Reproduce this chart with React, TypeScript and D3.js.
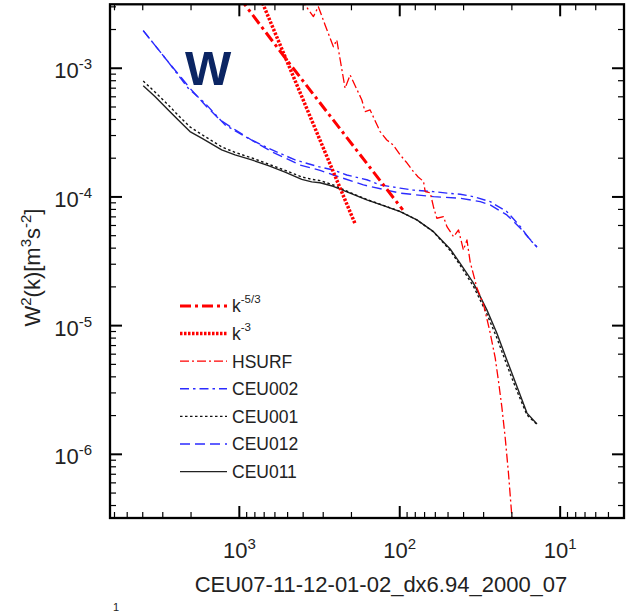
import React from "react";
import * as d3 from "d3";

// ---- data (wavelength in km, W^2(k) in m^3 s^-2) ----
const ceu011X = [3972, 3357, 2773, 2402, 2031, 1717, 1288, 1064, 837, 659, 518.7, 408.1, 353.4, 313.8, 259.9, 203.9, 160.5, 126.4, 99.4, 78.2, 61.6, 48.5, 42.0, 34.7, 28.6, 24.8, 21.5, 18.6, 16.1, 13.95];
const ceu011Y = [7.32e-4, 6.02e-4, 4.74e-4, 3.97e-4, 3.22e-4, 2.86e-4, 2.32e-4, 2.12e-4, 1.94e-4, 1.75e-4, 1.56e-4, 1.37e-4, 1.31e-4, 1.29e-4, 1.21e-4, 1.07e-4, 9.48e-5, 8.56e-5, 7.69e-5, 6.63e-5, 5.37e-5, 3.94e-5, 3.05e-5, 2.14e-5, 1.32e-5, 8.73e-6, 5.41e-6, 3.36e-6, 2.09e-6, 1.72e-6];

const ceu001X = [3972, 3357, 2773, 2402, 2031, 1717, 1288, 1064, 837, 659, 518.7, 408.1, 353.4, 313.8, 259.9, 203.9, 160.5, 126.4, 99.4, 78.2, 61.6, 48.5, 42.0, 34.7, 28.6, 24.8, 21.5, 18.6, 16.1, 13.95];
const ceu001Y = [7.96e-4, 6.54e-4, 5.19e-4, 4.3e-4, 3.5e-4, 3.06e-4, 2.45e-4, 2.22e-4, 2.01e-4, 1.8e-4, 1.61e-4, 1.43e-4, 1.37e-4, 1.34e-4, 1.24e-4, 1.08e-4, 9.56e-5, 8.59e-5, 7.72e-5, 6.63e-5, 5.35e-5, 3.84e-5, 2.94e-5, 2.02e-5, 1.23e-5, 8.02e-6, 4.95e-6, 3.11e-6, 2.02e-6, 1.71e-6];

const ceu002X = [3972, 2837, 2081, 1637, 1228, 921, 659, 449.2, 321.6, 259.2, 213.8, 160.5, 132.6, 99.4, 82.1, 61.6, 50.8, 42.0, 34.7, 27.3, 21.5, 17.7, 15.4, 13.95];
const ceu002Y = [1.96e-3, 1.16e-3, 6.99e-4, 5.35e-4, 3.63e-4, 2.94e-4, 2.39e-4, 1.94e-4, 1.72e-4, 1.62e-4, 1.48e-4, 1.36e-4, 1.24e-4, 1.17e-4, 1.13e-4, 1.1e-4, 1.07e-4, 1.05e-4, 1.005e-4, 9.19e-5, 7.69e-5, 5.88e-5, 4.63e-5, 4.11e-5];

const ceu012X = [3972, 2837, 2031, 1597, 1320, 1095, 821, 616, 418.1, 313.8, 259.2, 168.4, 99.4, 61.6, 42.0, 31.5, 27.3, 21.5, 17.7, 13.95];
const ceu012Y = [1.96e-3, 1.16e-3, 6.99e-4, 5.03e-4, 3.97e-4, 3.41e-4, 2.72e-4, 2.22e-4, 1.77e-4, 1.61e-4, 1.48e-4, 1.24e-4, 1.07e-4, 1.005e-4, 9.77e-5, 9.19e-5, 8.67e-5, 7.25e-5, 5.71e-5, 4.07e-5];

const hsurfX = [418.1, 389.1, 345.4, 321.6, 292.0, 259.2, 246.9, 219.1, 203.9, 172.3, 164.4, 152.9, 132.6, 120.4, 109.9, 99.4, 91.2, 82.1, 76.8, 71.1, 69.4, 64.6, 61.6, 58.7, 53.4, 50.8, 46.2, 43.0, 40.1, 38.1, 36.4, 33.0, 30.0, 27.3, 25.4, 24.2, 23.1, 22.0, 21.0, 20.0, 19.6];
const hsurfY = [3.52e-3, 3.1e-3, 2.52e-3, 3.01e-3, 2.17e-3, 1.47e-3, 1.66e-3, 6.99e-4, 8.87e-4, 5.67e-4, 4.6e-4, 4.74e-4, 3.22e-4, 2.77e-4, 2.54e-4, 2.12e-4, 1.87e-4, 1.57e-4, 1.43e-4, 1.32e-4, 1.1e-4, 1.08e-4, 8.36e-5, 6.83e-5, 7.03e-5, 5.88e-5, 4.91e-5, 5.54e-5, 3.87e-5, 4.63e-5, 3.13e-5, 1.96e-5, 1.45e-5, 8.77e-6, 5.61e-6, 3.65e-6, 2.34e-6, 1.34e-6, 7.13e-7, 3.28e-7, 2.59e-7];

const k53X = [1000, 506, 95.7];
const k53Y = [3.55e-3, 1.16e-3, 7.93e-5];

const k3X = [800, 189.7];
const k3Y = [4.46e-3, 6.17e-5];

const xMajorTicks = [1000, 100, 10];
const xMajorExp = ["3", "2", "1"];
const yMajorTicks = [1e-3, 1e-4, 1e-5, 1e-6];
const yMajorExp = ["-3", "-4", "-5", "-6"];

const legendNames = ["k", "k", "HSURF", "CEU002", "CEU001", "CEU012", "CEU011"];
const legendSup = ["-5/3", "-3", "", "", "", "", ""];

const FONT = "'Liberation Sans', Arial, Helvetica, sans-serif";
const W = 635;
const H = 614;
const L = 110, R = 624, T = 4.3, B = 518;

type Pt = [number, number];
const zip = (xs: number[], ys: number[]): Pt[] => xs.map((v, i) => [v, ys[i]]);

export default function App() {
  const x = d3.scaleLog().domain([6400, 4]).range([L, R]);
  const y = d3.scaleLog().domain([3.2e-7, 3.14e-3]).range([B, T]);
  const line = d3.line<Pt>().x((d) => x(d[0])).y((d) => y(d[1]));

  const red = "#ff0000";
  const blue = "#2b2bff";
  const series = [
    { key: "k53", data: zip(k53X, k53Y), color: red, w: 3, dash: "11,4,3,4" },
    { key: "k3", data: zip(k3X, k3Y), color: red, w: 3.5, dash: "2.5,1.5" },
    { key: "hsurf", data: zip(hsurfX, hsurfY), color: red, w: 1.3, dash: "9,3,2,3" },
    { key: "ceu002", data: zip(ceu002X, ceu002Y), color: blue, w: 1.4, dash: "9,4,2.5,4" },
    { key: "ceu001", data: zip(ceu001X, ceu001Y), color: "#111", w: 1.4, dash: "2.5,2.5" },
    { key: "ceu012", data: zip(ceu012X, ceu012Y), color: blue, w: 1.4, dash: "10,5" },
    { key: "ceu011", data: zip(ceu011X, ceu011Y), color: "#222", w: 1.4, dash: "" },
  ];

  // ticks
  const xTicks: { v: number; m: number }[] = [];
  for (let e = 0; e <= 4; e++) {
    for (let m = 1; m <= 9; m++) {
      const v = m * Math.pow(10, e);
      if (v >= 4 && v <= 6400) xTicks.push({ v, m });
    }
  }
  const yTicks: { v: number; m: number }[] = [];
  for (let e = -7; e <= -3; e++) {
    for (let m = 1; m <= 9; m++) {
      const v = m * Math.pow(10, e);
      if (v >= 3.2e-7 && v <= 3.14e-3) yTicks.push({ v, m });
    }
  }
  const majL = 12, minL = 6;

  const legendY0 = 306, legendDy = 27.6;

  return (
    <svg width={W} height={H} style={{ position: "absolute", left: 0, top: 0, background: "#fff" }} fontFamily={FONT}>
      <rect x={0} y={0} width={W} height={H} fill="#fff" />
      <defs>
        <clipPath id="plotClip">
          <rect x={L} y={T} width={R - L} height={B - T} />
        </clipPath>
      </defs>

      {/* data lines */}
      <g clipPath="url(#plotClip)" fill="none">
        {series.slice().reverse().map((s) => (
          <path key={s.key} d={line(s.data) || ""} stroke={s.color} strokeWidth={s.w} strokeDasharray={s.dash || undefined} strokeLinejoin="round" />
        ))}
      </g>

      {/* ticks */}
      <g stroke="#000">
        {xTicks.map((t, i) => {
          const px = x(t.v);
          const major = t.m === 1;
          const even = t.m % 2 === 0;
          return (
            <g key={"xt" + i}>
              <line x1={px} x2={px} y1={B} y2={B - (major ? majL : minL)} strokeWidth={major ? 2 : 1.2} />
              {(major || even) && <line x1={px} x2={px} y1={T} y2={T + (major ? majL : minL)} strokeWidth={major ? 2 : 1.2} />}
            </g>
          );
        })}
        {yTicks.map((t, i) => {
          const py = y(t.v);
          const major = t.m === 1;
          const even = t.m % 2 === 0;
          return (
            <g key={"yt" + i}>
              <line x1={L} x2={L + (major ? majL : minL)} y1={py} y2={py} strokeWidth={major ? 2 : 1.2} />
              {(major || even) && <line x1={R} x2={R - (major ? majL : minL)} y1={py} y2={py} strokeWidth={major ? 2 : 1.2} />}
            </g>
          );
        })}
      </g>

      {/* frame */}
      <rect x={L} y={T} width={R - L} height={B - T} fill="none" stroke="#000" strokeWidth={2.3} />

      {/* tick labels */}
      <g fill="#222">
        {xMajorTicks.map((v, i) => (
          <text key={"xl" + i} x={x(v)} y={558} textAnchor="middle" fontSize={22}>
            10<tspan dy={-9} fontSize={15}>{xMajorExp[i]}</tspan>
          </text>
        ))}
        {yMajorTicks.map((v, i) => (
          <text key={"yl" + i} x={92} y={y(v) + 10} textAnchor="end" fontSize={22}>
            10<tspan dy={-9} fontSize={15}>{yMajorExp[i]}</tspan>
          </text>
        ))}
      </g>

      {/* axis titles */}
      <text x={381} y={592} textAnchor="middle" fontSize={22} fill="#222">
        CEU07-11-12-01-02_dx6.94_2000_07
      </text>
      <text transform="translate(40,267.5) rotate(-90)" textAnchor="middle" fontSize={22} fill="#222">
        W<tspan dy={-9} fontSize={15}>2</tspan>
        <tspan dy={9}>(k)[m</tspan>
        <tspan dy={-9} fontSize={15}>3</tspan>
        <tspan dy={9}>s</tspan>
        <tspan dy={-9} fontSize={15}>-2</tspan>
        <tspan dy={9}>]</tspan>
      </text>
      <text x={113} y={611} fontSize={11} fill="#222">1</text>

      {/* big W */}
      <text x={185} y={85} fontSize={49} fontWeight="bold" fill="#0b2563">W</text>

      {/* legend */}
      <g>
        {series.map((s, i) => {
          const ly = legendY0 + i * legendDy;
          return (
            <g key={"lg" + i}>
              <line x1={180} x2={227} y1={ly} y2={ly} stroke={s.color} strokeWidth={s.w} strokeDasharray={s.dash || undefined} />
              <text x={232} y={ly + 6.3} fontSize={17.5} fill="#222">
                {legendNames[i]}
                {legendSup[i] && <tspan dy={-9} fontSize={11.5}>{legendSup[i]}</tspan>}
              </text>
            </g>
          );
        })}
      </g>
    </svg>
  );
}
